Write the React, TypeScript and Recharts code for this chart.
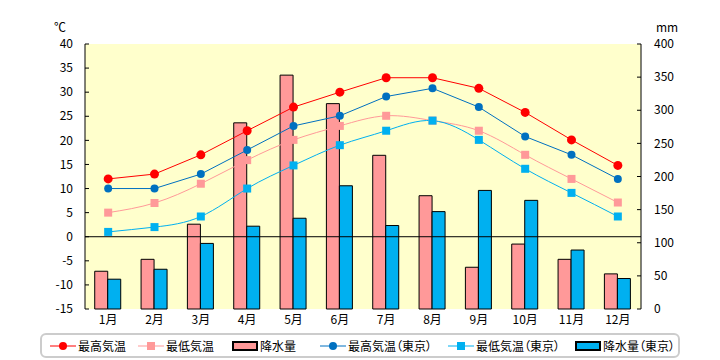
import React from 'react'
import {
  ComposedChart,
  Bar,
  Line,
  XAxis,
  YAxis,
  CartesianGrid,
  ReferenceLine,
} from 'recharts'

const months = ['1月', '2月', '3月', '4月', '5月', '6月', '7月', '8月', '9月', '10月', '11月', '12月']
const maxTemp = [12, 13, 17, 22, 26.9, 30, 33, 33, 30.8, 25.8, 20.1, 14.8]
const minTemp = [5, 7, 11, 15.9, 20.1, 23, 25.1, 24.1, 22, 17, 12, 7.1]
const rain = [57, 75, 128, 281, 353, 310, 232, 171, 63, 98, 75, 53]
const maxTempTokyo = [10, 10, 13, 18, 23, 25.1, 29.1, 30.8, 26.9, 20.8, 17, 12]
const minTempTokyo = [1, 2, 4.2, 10, 14.8, 19, 22, 24.1, 20.1, 14.1, 9.1, 4.2]
const rainTokyo = [45, 60, 99, 125, 137, 186, 126, 147, 179, 164, 89, 46]

const tempTicks = [-15, -10, -5, 0, 5, 10, 15, 20, 25, 30, 35, 40]
const rainTicks = [0, 50, 100, 150, 200, 250, 300, 350, 400]

const data = months.map((m, i) => ({
  month: m,
  maxTemp: maxTemp[i],
  minTemp: minTemp[i],
  rain: rain[i],
  maxTempTokyo: maxTempTokyo[i],
  minTempTokyo: minTempTokyo[i],
  rainTokyo: rainTokyo[i],
}))

const FONT = '"Noto Sans CJK JP", "Noto Sans", sans-serif'

const LeftTick = ({ x, y, payload }: any) => (
  <g>
    <line x1={x} x2={x + 4} y1={y} y2={y} stroke="#000" />
    <text x={x - 12} y={y} dy="0.35em" textAnchor="end" fontSize={12} fontFamily={FONT} fill="#000">
      {payload.value}
    </text>
  </g>
)

const RightTick = ({ x, y, payload }: any) => (
  <g>
    <line x1={x - 4} x2={x} y1={y} y2={y} stroke="#000" />
    <text x={x + 13} y={y} dy="0.35em" textAnchor="start" fontSize={12} fontFamily={FONT} fill="#000">
      {payload.value}
    </text>
  </g>
)

const squareDot = (color: string) => (props: any) => {
  const { cx, cy, index } = props
  if (cx == null || cy == null) return <g key={index} />
  return <rect key={index} x={cx - 4} y={cy - 4} width={8} height={8} fill={color} />
}

const legendItems = [
  { name: '最高気温', kind: 'circle', color: '#FF0000' },
  { name: '最低気温', kind: 'square', color: '#FF9999' },
  { name: '降水量', kind: 'bar', color: '#FF9999' },
  { name: '最高気温（東京）', kind: 'circle', color: '#0070C0' },
  { name: '最低気温（東京）', kind: 'square', color: '#00B0F0' },
  { name: '降水量（東京）', kind: 'bar', color: '#00B0F0' },
]

const LegendIcon = ({ kind, color }: { kind: string; color: string }) => (
  <svg width={26} height={12} style={{ display: 'block', flexShrink: 0 }}>
    {kind === 'bar' ? (
      <rect x={1} y={2} width={24} height={8} fill={color} stroke="#000" strokeWidth={2} />
    ) : (
      <>
        <line x1={0} x2={26} y1={6} y2={6} stroke={color} strokeWidth={1} />
        {kind === 'circle' ? (
          <circle cx={13} cy={6} r={4} fill={color} />
        ) : (
          <rect x={9} y={2} width={8} height={8} fill={color} />
        )}
      </>
    )}
  </svg>
)

export default function App() {
  const legendLefts = [8, 96, 190, 278, 406, 533]
  return (
    <div style={{ position: 'absolute', left: 0, top: 0, width: 720, height: 360, background: '#fff' }}>
      <ComposedChart
        width={720}
        height={360}
        data={data}
        margin={{ top: 44, right: 0, bottom: 0, left: 0 }}
        barGap={0}
        barCategoryGap="21%"
      >
        <CartesianGrid fill="#FFFFCC" horizontal={false} vertical={false} yAxisId="left" />
        <XAxis
          dataKey="month"
          height={51}
          axisLine={false}
          tickLine={false}
          tickSize={0}
          tickMargin={6}
          tick={{ fontSize: 12, fontFamily: FONT, fill: '#000' }}
          interval={0}
        />
        <YAxis
          yAxisId="left"
          orientation="left"
          width={85}
          domain={[-15, 40]}
          ticks={tempTicks}
          interval={0}
          axisLine={{ stroke: '#000' }}
          tickLine={false}
          tickSize={0}
          tickMargin={0}
          tick={<LeftTick />}
        />
        <YAxis
          yAxisId="right"
          orientation="right"
          width={79}
          domain={[0, 400]}
          ticks={rainTicks}
          interval={0}
          axisLine={{ stroke: '#000' }}
          tickLine={false}
          tickSize={0}
          tickMargin={0}
          tick={<RightTick />}
        />
        <Bar yAxisId="right" dataKey="rain" fill="#FF9999" stroke="#000" strokeWidth={1} isAnimationActive={false} />
        <Bar yAxisId="right" dataKey="rainTokyo" fill="#00B0F0" stroke="#000" strokeWidth={1} isAnimationActive={false} />
        <ReferenceLine yAxisId="left" y={0} stroke="#000" strokeWidth={1} />
        <Line
          yAxisId="left"
          type="natural"
          dataKey="minTemp"
          stroke="#FF9999"
          strokeWidth={1}
          dot={squareDot('#FF9999')}
          isAnimationActive={false}
        />
        <Line
          yAxisId="left"
          type="natural"
          dataKey="minTempTokyo"
          stroke="#00B0F0"
          strokeWidth={1}
          dot={squareDot('#00B0F0')}
          isAnimationActive={false}
        />
        <Line
          yAxisId="left"
          type="linear"
          dataKey="maxTempTokyo"
          stroke="#0070C0"
          strokeWidth={1}
          dot={{ r: 4, fill: '#0070C0', stroke: 'none' }}
          isAnimationActive={false}
        />
        <Line
          yAxisId="left"
          type="linear"
          dataKey="maxTemp"
          stroke="#FF0000"
          strokeWidth={1}
          dot={{ r: 4.5, fill: '#FF0000', stroke: 'none' }}
          isAnimationActive={false}
        />
      </ComposedChart>

      {/* unit labels */}
      <div style={{ position: 'absolute', left: 54, top: 18, fontSize: 12, fontFamily: FONT }}>℃</div>
      <div style={{ position: 'absolute', left: 656, top: 18, fontSize: 12, fontFamily: FONT }}>mm</div>

      {/* legend */}
      <div
        style={{
          position: 'absolute',
          left: 40,
          top: 333,
          width: 636,
          height: 21,
          border: '2px solid #CCCCCC',
          borderRadius: 6,
          fontFamily: FONT,
          fontSize: 12,
          fontFeatureSettings: '"palt"',
        }}
      >
        {legendItems.map((item, i) => (
          <div
            key={i}
            style={{
              position: 'absolute',
              left: legendLefts[i],
              top: 2,
              display: 'flex',
              alignItems: 'center',
              gap: 2,
              whiteSpace: 'nowrap',
            }}
          >
            <LegendIcon kind={item.kind} color={item.color} />
            <span>{item.name}</span>
          </div>
        ))}
      </div>
    </div>
  )
}
